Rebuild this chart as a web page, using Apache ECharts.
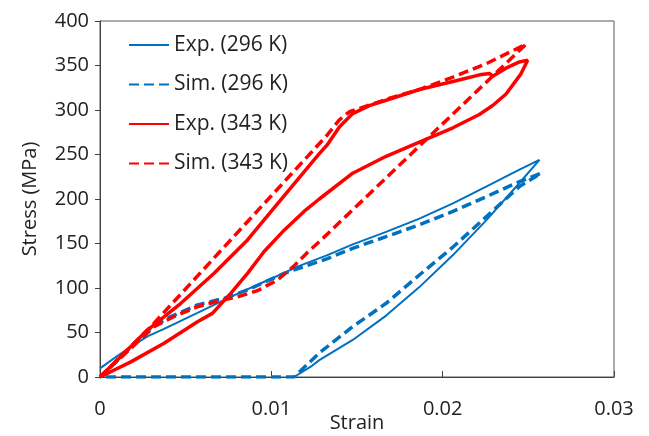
<!DOCTYPE html>
<html>
<head>
<meta charset="utf-8">
<script src="https://cdn.jsdelivr.net/npm/echarts@6/dist/echarts.min.js"></script>
<style>html,body{margin:0;padding:0;background:#fff}#c{width:649px;height:436px}</style>
</head>
<body>
<div id="c"></div>
<script>
// ---- data (strain, stress MPa) ----
const seriesNames = ['Exp. (296 K)', 'Sim. (296 K)', 'Exp. (343 K)', 'Sim. (343 K)'];
const xTicks = [0, 0.01, 0.02, 0.03];
const yTicks = [0, 50, 100, 150, 200, 250, 300, 350, 400];

const exp296 = [
  [0, 9.7], [0.0009, 22], [0.0018, 34], [0.0028, 46], [0.00374, 54], [0.00569, 72],
  [0.00763, 90], [0.00958, 107], [0.01075, 117], [0.01152, 124], [0.01327, 137],
  [0.01475, 149], [0.0167, 163], [0.01864, 178], [0.0206, 195], [0.02254, 214],
  [0.02448, 233], [0.02565, 244],
  [0.02448, 218], [0.02254, 176], [0.0206, 137], [0.01864, 101], [0.0167, 69],
  [0.01475, 41.6], [0.0128, 19], [0.0123, 11.6], [0.01133, 0]
];
const sim296 = [
  [0, 0], [0.00306, 56.6], [0.00413, 67.8], [0.00569, 81], [0.00724, 88.4],
  [0.00861, 97.8], [0.01075, 116.5], [0.01327, 133], [0.01475, 144.6], [0.0167, 157.7],
  [0.01864, 171], [0.0206, 186], [0.02254, 202.6], [0.02448, 219.5], [0.02574, 229],
  [0.02448, 214], [0.02254, 180], [0.0206, 146], [0.01864, 114.6], [0.0167, 82.8],
  [0.01475, 56.6], [0.0128, 27], [0.01133, 0], [0, 0]
];
const exp343 = [
  [0, 0], [0.00141, 26.6], [0.00277, 52.8], [0.00472, 82.8], [0.00666, 116.5],
  [0.00861, 154], [0.01055, 199], [0.0128, 251], [0.01327, 261], [0.01397, 281],
  [0.01475, 296], [0.01572, 305], [0.0167, 311], [0.01864, 323], [0.0206, 332],
  [0.02216, 339.5], [0.02274, 341], [0.02292, 338], [0.0237, 347], [0.02448, 354],
  [0.02496, 356],
  [0.02455, 340], [0.0237, 318], [0.02292, 305], [0.02214, 295], [0.0206, 280],
  [0.01864, 264], [0.0167, 248], [0.01475, 229], [0.0128, 200], [0.01191, 186],
  [0.01075, 165], [0.00958, 141], [0.00861, 116.5], [0.00763, 94], [0.00656, 71.5],
  [0.00569, 62], [0.00374, 38], [0.0018, 17], [0, 0]
];
const sim343 = [
  [0, 0], [0.00297, 56.6], [0.01327, 272], [0.01397, 289], [0.01456, 298],
  [0.0167, 312], [0.01864, 323], [0.0206, 337], [0.02254, 352], [0.02487, 374],
  [0.0128, 152], [0.01211, 140], [0.01128, 124], [0.01036, 109], [0.00919, 97],
  [0.00802, 90], [0.00705, 86], [0.00569, 79], [0.00433, 68], [0.00316, 56.6], [0, 0]
];

const BLUE = '#0070C0', RED = '#FF0000';
const FONT = 'Open Sans';

const chart = echarts.init(document.getElementById('c'), null, {renderer: 'canvas'});
const mk = (name, data, color, width, dashed) => ({
  name, type: 'line', data, showSymbol: false, symbol: 'none', smooth: false,
  animation: false,
  lineStyle: {color, width, type: dashed ? [10, 5] : 'solid'},
  itemStyle: {color}
});
chart.setOption({
  animation: false,
  grid: {left: 100, top: 21, width: 514, height: 356, show: true, borderColor: '#595959', borderWidth: 1,
    containLabel: false, outerBoundsMode: 'none'},
  legend: {
    orient: 'vertical', left: 123, top: 29, itemWidth: 40, itemHeight: 14, itemGap: 17.5,
    itemStyle: {opacity: 0},
    textStyle: {fontFamily: FONT, fontSize: 21, color: '#222', lineHeight: 22, padding: [0, 0, 0, 0]},
    data: seriesNames
  },
  xAxis: {
    type: 'value', min: xTicks[0], max: xTicks[xTicks.length - 1], interval: 0.01,
    name: 'Strain', nameLocation: 'middle', nameGap: 36, nameMoveOverlap: false,
    nameTextStyle: {fontFamily: FONT, fontSize: 20, color: '#222'},
    axisLine: {show: true, lineStyle: {color: '#404040', width: 1}},
    axisTick: {show: true, inside: true, length: 6, lineStyle: {color: '#404040'}},
    axisLabel: {fontFamily: FONT, fontSize: 20, color: '#222', margin: 22,
      formatter: v => (xTicks.includes(+v.toFixed(2)) ? String(+v.toFixed(2)) : '')},
    splitLine: {show: false}
  },
  yAxis: {
    type: 'value', min: yTicks[0], max: yTicks[yTicks.length - 1], interval: 50,
    name: 'Stress (MPa)', nameLocation: 'middle', nameGap: 60, nameRotate: 90, nameMoveOverlap: false,
    nameTextStyle: {fontFamily: FONT, fontSize: 20, color: '#222'},
    axisLine: {show: true, lineStyle: {color: '#404040', width: 1}},
    axisTick: {show: true, inside: false, length: 5, lineStyle: {color: '#404040'}},
    axisLabel: {fontFamily: FONT, fontSize: 20, color: '#222', margin: 11},
    splitLine: {show: false}
  },
  series: [
    mk(seriesNames[0], exp296, BLUE, 2, false),
    mk(seriesNames[1], sim296, BLUE, 3.5, true),
    mk(seriesNames[2], exp343, RED, 3.5, false),
    mk(seriesNames[3], sim343, RED, 3.5, true)
  ]
});
</script>
</body>
</html>
